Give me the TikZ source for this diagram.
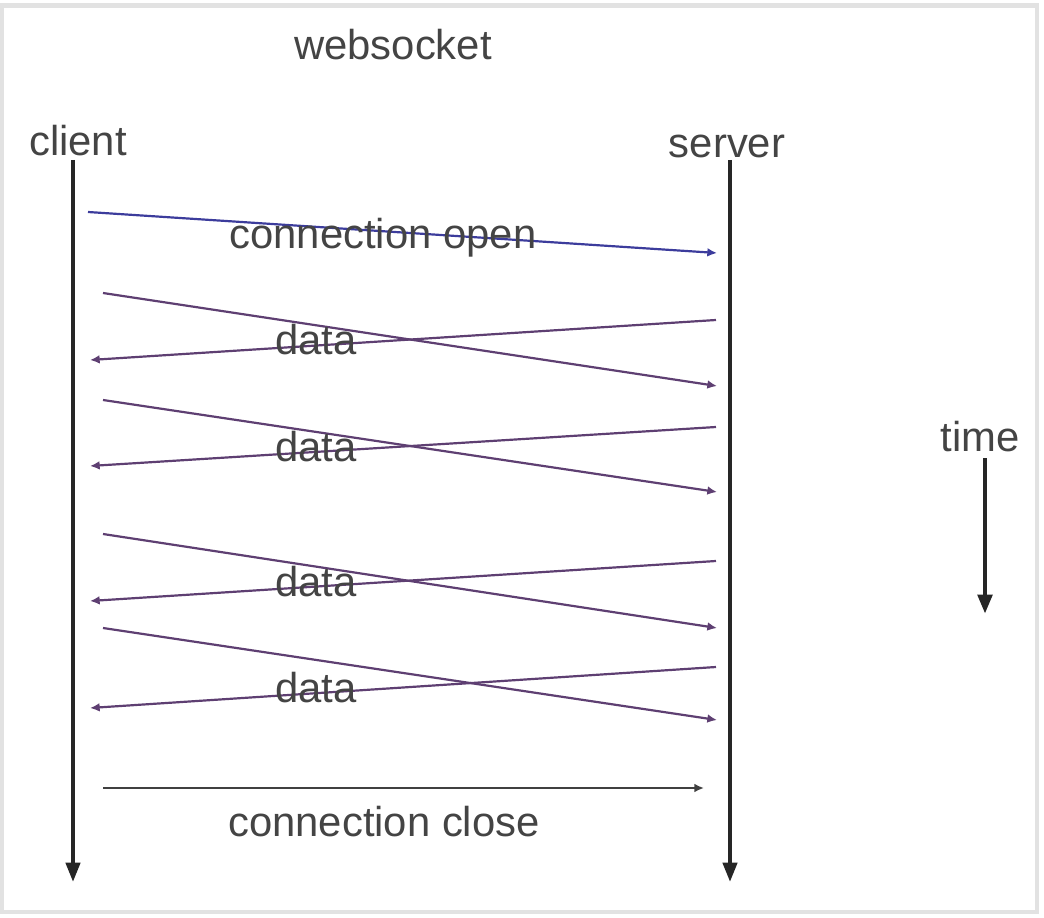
\documentclass[tikz,border=0pt]{standalone}
\usepackage{fontspec}
\setmainfont{Liberation Sans}
\usetikzlibrary{arrows.meta}
\definecolor{txtgray}{HTML}{444444}
\definecolor{openblue}{HTML}{3C3C9C}
\definecolor{datapurple}{HTML}{5E3F72}
\definecolor{framegray}{HTML}{E2E2E2}
\begin{document}
\begin{tikzpicture}[x=0.02cm, y=-0.02cm,
    lbl/.style={anchor=base, inner sep=0pt, text=txtgray, font=\fontsize{23.8}{28}\selectfont},
    lifeline/.style={line width=2.3pt, black!85, -{Triangle[length=11pt,width=8pt]}},
    msg/.style={line width=1.25pt, -{Latex[length=5.5pt,width=5pt]}},
  ]
    \useasboundingbox (0,0) rectangle (1044,918);

    % frame
    \draw[framegray, line width=2.3pt] (1.5,5.5) rectangle (1037,912);

    \node[lbl] (title) at (393,60) {websocket};
    \node[lbl] (client) at (78,156) {client};
    \node[lbl] (server) at (727,158) {server};
    \node[lbl] (time) at (980,452) {time};

    % lifelines
    \coordinate (c top) at (73,160);
    \coordinate (c end) at (73,882);
    \coordinate (s top) at (730,160);
    \coordinate (s end) at (730,882);
    \draw[lifeline] (c top) -- (c end);
    \draw[lifeline] (s top) -- (s end);

    \coordinate (t top) at (985,458);
    \coordinate (t end) at (985,614);
    \draw[lifeline, line width=2.8pt] (t top) -- (t end);

    % connection open
    \coordinate (open a) at (88,212);
    \coordinate (open b) at (717,253);
    \draw[msg, openblue] (open a) -- (open b);
    \node[lbl] (open) at (383,249) {connection open};

    % data exchanges
    \foreach \n/\a/\b/\c/\d/\y in {1/293/386/320/360/355,
                                   2/400/492/427/466/461,
                                   3/534/628/561/601/596,
                                   4/628/720/667/708/702} {
      \coordinate (up\n a) at (103,\a);
      \coordinate (up\n b) at (717,\b);
      \coordinate (dn\n a) at (716,\c);
      \coordinate (dn\n b) at (90,\d);
      \draw[msg, datapurple] (up\n a) -- (up\n b);
      \draw[msg, datapurple] (dn\n a) -- (dn\n b);
      \node[lbl] (data\n) at (316,\y) {data};
    }

    % connection close
    \coordinate (close a) at (103,788);
    \coordinate (close b) at (704,788);
    \draw[msg, black!75] (close a) -- (close b);
    \node[lbl] (close) at (384,836) {connection close};

\end{tikzpicture}
\end{document}
